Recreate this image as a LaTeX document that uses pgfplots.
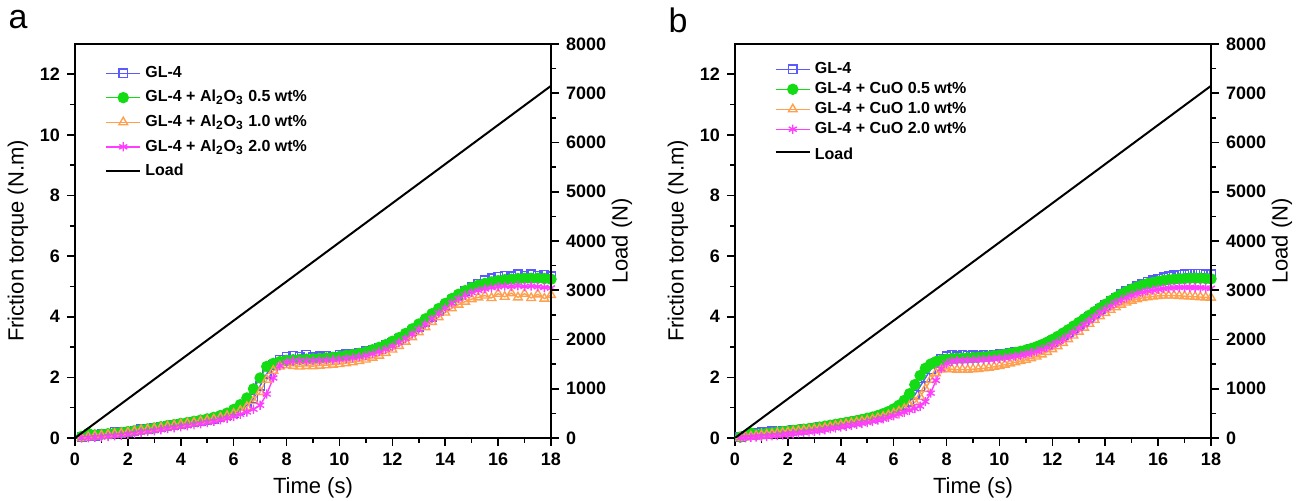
\documentclass[border=0pt]{standalone}
\usepackage{fontspec}
\setmainfont{Liberation Sans}
\usepackage{pgfplots}
\usepackage{pgfplotstable}
\pgfplotsset{compat=1.18}

\definecolor{glblue}{RGB}{90,90,255}
\definecolor{glgreen}{HTML}{14DC14}
\definecolor{glorange}{HTML}{FFA04E}
\definecolor{glmagenta}{HTML}{FF3CFF}

% panel a: t, GL-4, +0.5, +1.0, +2.0 (Al2O3)
\pgfplotstableread{
t     b     g     o     m
0.25  0.02  0.05  0.00  0.00
0.50  0.05  0.15  0.03  0.01
0.75  0.07  0.10  0.06  0.02
1.00  0.12  0.12  0.08  0.03
1.25  0.13  0.14  0.11  0.05
1.50  0.20  0.16  0.13  0.07
1.75  0.17  0.18  0.15  0.09
2.00  0.20  0.21  0.18  0.12
2.25  0.22  0.24  0.22  0.15
2.50  0.30  0.27  0.26  0.18
2.75  0.29  0.30  0.28  0.21
3.00  0.32  0.33  0.31  0.24
3.25  0.35  0.37  0.34  0.27
3.50  0.39  0.41  0.38  0.31
3.75  0.42  0.44  0.41  0.34
4.00  0.45  0.48  0.45  0.37
4.25  0.48  0.51  0.48  0.40
4.50  0.52  0.55  0.51  0.44
4.75  0.55  0.59  0.55  0.47
5.00  0.59  0.63  0.58  0.51
5.25  0.63  0.68  0.62  0.55
5.50  0.68  0.74  0.67  0.60
5.75  0.74  0.82  0.73  0.65
6.00  0.82  0.94  0.80  0.71
6.25  0.93  1.10  0.90  0.78
6.50  1.08  1.32  1.03  0.86
6.75  1.30  1.62  1.22  0.95
7.00  1.72  1.98  1.52  1.08
7.25  2.12  2.36  1.92  1.45
7.50  2.42  2.46  2.22  1.98
7.75  2.58  2.52  2.36  2.38
8.00  2.68  2.56  2.40  2.50
8.25  2.72  2.58  2.38  2.54
8.50  2.68  2.59  2.36  2.55
8.75  2.74  2.60  2.38  2.54
9.00  2.66  2.61  2.37  2.55
9.25  2.70  2.62  2.39  2.56
9.50  2.72  2.64  2.40  2.57
9.75  2.68  2.66  2.42  2.58
10.00 2.74  2.69  2.44  2.60
10.25 2.76  2.72  2.47  2.62
10.50 2.78  2.75  2.50  2.65
10.75 2.82  2.79  2.54  2.68
11.00 2.86  2.84  2.59  2.72
11.25 2.92  2.91  2.65  2.78
11.50 2.98  2.99  2.72  2.85
11.75 3.06  3.08  2.81  2.93
12.00 3.15  3.19  2.92  3.03
12.25 3.26  3.31  3.04  3.15
12.50 3.38  3.45  3.18  3.28
12.75 3.52  3.60  3.33  3.43
13.00 3.67  3.76  3.49  3.59
13.25 3.83  3.93  3.66  3.76
13.50 4.00  4.10  3.83  3.94
13.75 4.18  4.27  3.99  4.12
14.00 4.36  4.44  4.14  4.29
14.25 4.54  4.60  4.28  4.45
14.50 4.70  4.74  4.40  4.59
14.75 4.85  4.86  4.50  4.71
15.00 4.98  4.96  4.58  4.80
15.25 5.10  5.04  4.64  4.87
15.50 5.20  5.10  4.70  4.92
15.75 5.27  5.15  4.62  4.96
16.00 5.32  5.19  4.76  4.99
16.25 5.36  5.22  4.66  5.01
16.50 5.34  5.24  4.78  5.00
16.75 5.40  5.26  4.64  5.02
17.00 5.36  5.27  4.76  5.00
17.25 5.41  5.27  4.62  5.01
17.50 5.35  5.27  4.74  4.99
17.75 5.38  5.26  4.60  4.97
18.00 5.34  5.24  4.72  4.95
}\tabA

% panel b: t, GL-4, +0.5, +1.0, +2.0 (CuO)
\pgfplotstableread{
t    b    g    o    m
0.2  0.02 0.03 0.01 0.00
0.4  0.08 0.08 0.03 0.01
0.6  0.12 0.16 0.05 0.02
0.8  0.18 0.11 0.07 0.03
1.0  0.20 0.13 0.09 0.04
1.2  0.19 0.15 0.11 0.05
1.4  0.22 0.17 0.13 0.07
1.6  0.20 0.19 0.15 0.08
1.8  0.24 0.21 0.17 0.10
2.0  0.23 0.23 0.19 0.12
2.2  0.26 0.25 0.21 0.14
2.4  0.27 0.27 0.23 0.16
2.6  0.29 0.29 0.25 0.18
2.8  0.31 0.31 0.27 0.20
3.0  0.33 0.33 0.29 0.22
3.2  0.35 0.36 0.31 0.24
3.4  0.38 0.39 0.34 0.27
3.6  0.41 0.42 0.37 0.30
3.8  0.44 0.45 0.40 0.33
4.0  0.47 0.48 0.43 0.36
4.2  0.50 0.51 0.46 0.39
4.4  0.53 0.54 0.49 0.42
4.6  0.56 0.57 0.52 0.45
4.8  0.59 0.61 0.55 0.48
5.0  0.62 0.65 0.58 0.51
5.2  0.66 0.69 0.62 0.55
5.4  0.70 0.74 0.66 0.59
5.6  0.75 0.80 0.70 0.63
5.8  0.81 0.87 0.75 0.68
6.0  0.88 0.96 0.81 0.73
6.2  0.96 1.08 0.88 0.79
6.4  1.06 1.24 0.96 0.85
6.6  1.20 1.46 1.06 0.91
6.8  1.42 1.76 1.18 0.97
7.0  1.70 2.06 1.36 1.05
7.2  1.98 2.30 1.62 1.20
7.4  2.26 2.44 1.92 1.48
7.6  2.48 2.52 2.14 1.90
7.8  2.62 2.57 2.26 2.28
8.0  2.70 2.60 2.28 2.46
8.2  2.74 2.62 2.27 2.53
8.4  2.70 2.63 2.25 2.55
8.6  2.75 2.63 2.26 2.55
8.8  2.71 2.64 2.25 2.56
9.0  2.74 2.65 2.27 2.57
9.2  2.70 2.66 2.28 2.58
9.4  2.74 2.67 2.30 2.59
9.6  2.72 2.69 2.32 2.60
9.8  2.75 2.71 2.35 2.61
10.0 2.76 2.73 2.38 2.63
10.2 2.79 2.76 2.42 2.65
10.4 2.80 2.79 2.46 2.67
10.6 2.83 2.82 2.50 2.70
10.8 2.85 2.86 2.54 2.73
11.0 2.89 2.90 2.58 2.77
11.2 2.93 2.95 2.63 2.81
11.4 2.98 3.01 2.69 2.86
11.6 3.04 3.08 2.76 2.92
11.8 3.11 3.16 2.84 2.99
12.0 3.19 3.25 2.93 3.07
12.2 3.28 3.35 3.03 3.16
12.4 3.38 3.46 3.14 3.26
12.6 3.49 3.57 3.26 3.37
12.8 3.61 3.69 3.38 3.49
13.0 3.73 3.81 3.51 3.61
13.2 3.86 3.93 3.64 3.74
13.4 3.99 4.05 3.77 3.87
13.6 4.12 4.17 3.90 4.00
13.8 4.25 4.29 4.02 4.13
14.0 4.38 4.41 4.13 4.25
14.2 4.51 4.53 4.23 4.36
14.4 4.63 4.64 4.32 4.46
14.6 4.74 4.74 4.40 4.55
14.8 4.84 4.83 4.47 4.63
15.0 4.93 4.91 4.53 4.70
15.2 5.01 4.98 4.58 4.76
15.4 5.08 5.04 4.62 4.81
15.6 5.15 5.09 4.65 4.85
15.8 5.21 5.13 4.67 4.88
16.0 5.26 5.17 4.69 4.91
16.2 5.30 5.20 4.70 4.93
16.4 5.34 5.22 4.70 4.95
16.6 5.37 5.24 4.70 4.96
16.8 5.39 5.25 4.69 4.97
17.0 5.41 5.26 4.68 4.97
17.2 5.42 5.27 4.67 4.97
17.4 5.42 5.27 4.66 4.96
17.6 5.42 5.27 4.65 4.96
17.8 5.41 5.26 4.64 4.95
18.0 5.40 5.25 4.63 4.94
}\tabB

\pgfplotsset{
  panel/.style={scale only axis, width=238pt, height=197pt,
    xmin=0, xmax=18, tick align=outside,
    major tick length=4pt, minor tick length=2.5pt,
    axis line style={line width=1pt},
    every tick/.style={black, line width=0.8pt},
    tick label style={font=\bfseries\fontsize{9}{9}\selectfont},
    /pgf/number format/assume math mode=true,
    label style={font=\fontsize{11}{12}\selectfont}},
  leftax/.style={panel, ymin=0, ymax=13,
    xtick={0,2,...,18}, minor x tick num=1,
    ytick={0,2,...,12}, minor y tick num=1,
    xtick pos=left, ytick pos=left,
    xlabel={Time (s)}, ylabel={Friction torque (N.m)},
    xlabel style={at={(axis description cs:0.5,-0.127)}, anchor=center},
    ylabel style={at={(axis description cs:-0.12,0.5)}, anchor=center},
    legend cell align=left,
    legend style={draw=none, fill=none, anchor=north west,
      font=\bfseries\fontsize{8}{9.5}\selectfont}},
  rightax/.style={panel, ymin=0, ymax=8000,
    axis x line=none, axis y line*=right,
    ytick={0,1000,...,8000}, minor y tick num=1,
    scaled y ticks=false,
    yticklabel style={/pgf/number format/1000 sep={}},
    ylabel={Load (N)},
    ylabel style={at={(axis description cs:1.149,0.5)}, anchor=center}},
  sblue/.style={draw=glblue, line width=0.7pt, mark=square, mark size=2.1pt, mark options={solid, draw=glblue, fill=none}},
  sgreen/.style={draw=glgreen, line width=0.7pt, mark=*, mark size=2.5pt, mark options={draw=glgreen, fill=glgreen}},
  sorange/.style={draw=glorange, line width=0.7pt, mark=triangle, mark size=2.5pt, mark options={draw=glorange, fill=none}},
  smag/.style={draw=glmagenta, line width=0.7pt, mark=asterisk, mark size=2.3pt, mark options={draw=glmagenta}},
}

\begin{document}
\begin{tikzpicture}
\path[use as bounding box] (-37.5pt,-31.5pt) rectangle (614pt,219pt);

% ---- panel a ----
\begin{axis}[leftax, legend style={at={(axis description cs:0.05,0.965)}, row sep=1.0pt}]
  \addplot[sblue] table[x=t,y=b] {\tabA};
  \addlegendentry{GL-4}
  \addplot[sgreen] table[x=t,y=g] {\tabA};
  \addlegendentry{GL-4 + Al\textsubscript{2}O\textsubscript{3} 0.5 wt\%}
  \addplot[sorange] table[x=t,y=o] {\tabA};
  \addlegendentry{GL-4 + Al\textsubscript{2}O\textsubscript{3} 1.0 wt\%}
  \addplot[smag] table[x=t,y=m] {\tabA};
  \addlegendentry{GL-4 + Al\textsubscript{2}O\textsubscript{3} 2.0 wt\%}
  \addlegendimage{black, line width=1pt}
  \addlegendentry{Load}
\end{axis}
\begin{axis}[rightax]
  \addplot[black, line width=1pt] coordinates {(0,0) (18,7150)};
\end{axis}

% ---- panel b ----
\begin{axis}[leftax, at={(330pt,0pt)}, legend style={at={(axis description cs:0.07,0.975)}, row sep=-1.1pt}]
  \addplot[sblue] table[x=t,y=b] {\tabB};
  \addlegendentry{GL-4}
  \addplot[sgreen] table[x=t,y=g] {\tabB};
  \addlegendentry{GL-4 + CuO 0.5 wt\%}
  \addplot[sorange] table[x=t,y=o] {\tabB};
  \addlegendentry{GL-4 + CuO 1.0 wt\%}
  \addplot[smag] table[x=t,y=m] {\tabB};
  \addlegendentry{GL-4 + CuO 2.0 wt\%}
  \addlegendimage{black, line width=1pt}
  \addlegendentry{\rule{0pt}{8.5pt}Load}
\end{axis}
\begin{axis}[rightax, at={(330pt,0pt)}]
  \addplot[black, line width=1pt] coordinates {(0,0) (18,7150)};
\end{axis}

\node[font=\fontsize{17}{17}\selectfont] at (-28.5pt,209pt) {a};
\node[font=\fontsize{17}{17}\selectfont] at (301.5pt,209pt) {b};
\end{tikzpicture}
\end{document}
